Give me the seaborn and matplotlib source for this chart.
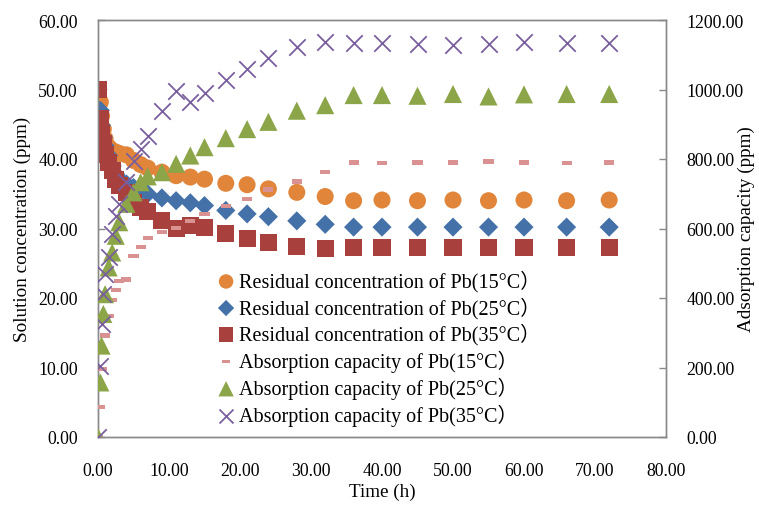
import numpy as np
import pandas as pd
import matplotlib
matplotlib.use("Agg")
import matplotlib.pyplot as plt
import seaborn as sns
from matplotlib.ticker import FormatStrFormatter, MultipleLocator

# ---------------- data ----------------
time_h = [0, 0.33, 0.5, 0.75, 1, 1.5, 2, 2.5, 3, 4, 5, 6, 7, 9, 11, 13, 15, 18, 21, 24,
          28, 32, 36, 40, 45, 50, 55, 60, 66, 72]

resid_15 = [50.0, 48.2, 46.2, 44.3, 42.9, 41.7, 41.2, 41.0, 40.8, 40.6, 39.8, 39.2, 38.7, 38.1,
            37.6, 37.4, 37.1, 36.5, 36.3, 35.7, 35.2, 34.6, 34.0, 34.1, 34.0, 34.1, 34.0, 34.1,
            34.0, 34.1]
resid_25 = [50.0, 47.0, 44.8, 43.1, 41.9, 40.5, 39.0, 37.8, 37.1, 36.4, 35.9, 35.4, 35.0, 34.4,
            34.0, 33.7, 33.3, 32.6, 32.1, 31.7, 31.1, 30.6, 30.2, 30.2, 30.2, 30.2, 30.2, 30.2,
            30.2, 30.2]
resid_35 = [50.0, 45.8, 43.6, 42.2, 40.7, 39.5, 38.3, 37.1, 36.2, 35.2, 33.8, 33.0, 32.5, 31.1,
            30.0, 30.5, 30.1, 29.3, 28.6, 28.0, 27.4, 27.1, 27.2, 27.2, 27.2, 27.3, 27.2, 27.2,
            27.2, 27.2]

cap_15 = [0, 86, 196, 247, 292, 348, 394, 424, 450, 453, 522, 546, 573, 591, 601, 622, 642, 664,
          685, 712, 735, 763, 790, 788, 790, 790, 793, 790, 788, 790]
cap_25 = [0, 157, 263, 354, 411, 488, 531, 579, 618, 671, 704, 733, 750, 762, 786, 810, 834, 860,
          886, 907, 939, 955, 984, 984, 982, 987, 980, 986, 987, 987]
cap_35 = [0, 205, 325, 412, 469, 517, 584, 637, 671, 733, 795, 829, 867, 939, 997, 965, 989,
          1028, 1059, 1090, 1121, 1138, 1133, 1134, 1131, 1129, 1131, 1136, 1134, 1134]

labels = ["Residual concentration of Pb(15°C）",
          "Residual concentration of Pb(25°C）",
          "Residual concentration of Pb(35°C）",
          "Absorption capacity of Pb(15°C）",
          "Absorption capacity of Pb(25°C）",
          "Absorption capacity of Pb(35°C）"]

# ---------------- style ----------------
sns.set_style("white")
plt.rcParams['font.family'] = ['Liberation Serif', 'Noto Sans CJK SC', 'DejaVu Sans']
plt.rcParams['axes.unicode_minus'] = False

c_or = '#E0853A'
c_bl = '#4472A8'
c_rd = '#A8403E'
c_gr = '#8BA548'
c_pu = '#7A5F9E'
c_pk = '#D99191'
spine_c = '#898989'

fig = plt.figure(figsize=(7.59, 5.06), dpi=100)
ax = fig.add_axes([98/759, 1-438/506, (666-98)/759, (438-21)/506])
ax2 = ax.twinx()

df = pd.DataFrame({'t': time_h, 'r15': resid_15, 'r25': resid_25, 'r35': resid_35,
                   'c15': cap_15, 'c25': cap_25, 'c35': cap_35})

sns.scatterplot(data=df, x='t', y='r15', ax=ax, marker='o', color=c_or, s=150,
                edgecolor='none', label=labels[0], legend=False, zorder=3)
sns.scatterplot(data=df, x='t', y='r25', ax=ax, marker='D', color=c_bl, s=95,
                edgecolor='none', label=labels[1], legend=False, zorder=3)
sns.scatterplot(data=df, x='t', y='r35', ax=ax, marker='s', color=c_rd, s=150,
                edgecolor='none', label=labels[2], legend=False, zorder=3)

dash = [(-1, -0.42), (1, -0.42), (1, 0.42), (-1, 0.42), (-1, -0.42)]
sns.scatterplot(data=df, x='t', y='c15', ax=ax2, marker=dash, color=c_pk, s=52,
                edgecolor='none', label=labels[3], legend=False, zorder=3)
sns.scatterplot(data=df, x='t', y='c25', ax=ax2, marker='^', color=c_gr, s=170,
                edgecolor='none', label=labels[4], legend=False, zorder=3)
sns.scatterplot(data=df, x='t', y='c35', ax=ax2, marker='x', color=c_pu, s=140,
                linewidth=1.3, label=labels[5], legend=False, zorder=3)

ax.set_xlim(0, 80)
ax.set_ylim(0, 60)
ax2.set_ylim(0, 1200)
ax.xaxis.set_major_locator(MultipleLocator(10))
ax.yaxis.set_major_locator(MultipleLocator(10))
ax2.yaxis.set_major_locator(MultipleLocator(200))
for a in (ax, ax2):
    a.xaxis.set_major_formatter(FormatStrFormatter('%.2f'))
    a.yaxis.set_major_formatter(FormatStrFormatter('%.2f'))
    for s in a.spines.values():
        s.set_color(spine_c)
        s.set_linewidth(1.0)
    a.tick_params(axis='y', direction='in', length=5, width=1.0, color=spine_c,
                  labelsize=12.8, labelcolor='black', pad=14.5)
ax.tick_params(axis='x', direction='in', length=5, width=1.0, color=spine_c,
               labelsize=12.8, labelcolor='black', pad=18)

ax.set_xlabel('Time (h)', fontsize=13.8, color='black')
ax.set_ylabel('Solution concentration (ppm)', fontsize=13.8, color='black')
ax2.set_ylabel('Adsorption capacity (ppm)', fontsize=13.8, color='black')
ax.xaxis.set_label_coords(0.5, (438-484)/417)
ax.yaxis.set_label_coords((31-98)/568, 0.5)
ax2.yaxis.set_label_coords((738-98)/568, 0.5)
ax.grid(False)
ax2.grid(False)

h1, l1 = ax.get_legend_handles_labels()
h2, l2 = ax2.get_legend_handles_labels()
leg = ax2.legend(h1 + h2, l1 + l2, loc='upper left',
                 bbox_to_anchor=(216/759, 1-271/506), bbox_transform=fig.transFigure,
                 frameon=False, fontsize=14.5, handletextpad=0.15, handlelength=1.0,
                 borderpad=0, borderaxespad=0, labelspacing=0.24, markerscale=0.85)
for t in leg.get_texts():
    t.set_color('black')

fig.savefig('out.png', dpi=100)
